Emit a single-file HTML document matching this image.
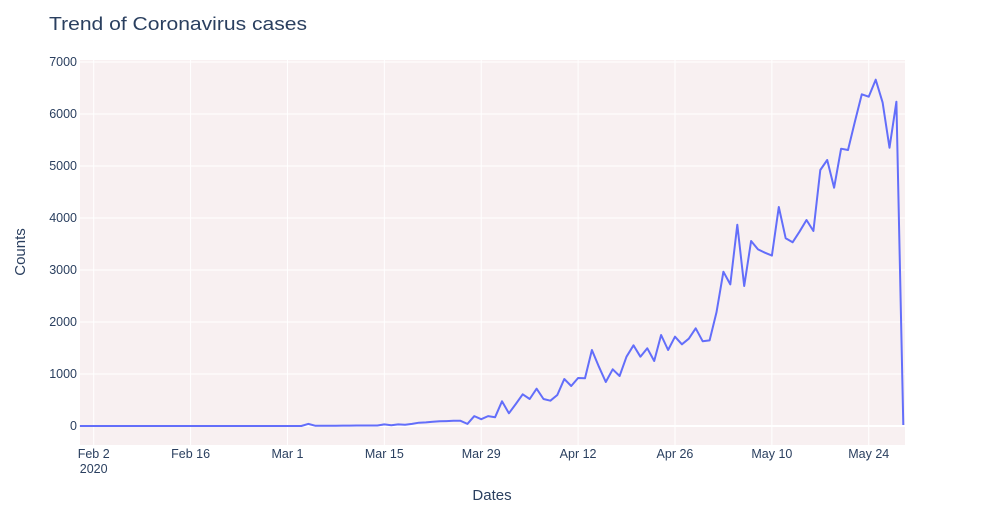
<!DOCTYPE html>
<html><head><meta charset="utf-8"><style>
body{margin:0;background:#fff;}
svg{display:block;font-family:"Liberation Sans",sans-serif;}
</style></head><body>
<svg id="chart" width="983" height="525">
<text x="49" y="30" font-size="18" fill="#2a3f5f" textLength="258" lengthAdjust="spacingAndGlyphs">Trend of Coronavirus cases</text>
<rect x="80" y="60" width="825" height="385" fill="#f8f0f1"/>
<g id="grid"></g>
<g id="yticks"></g>
<g id="xticks"></g>
<text x="492" y="500" font-size="15" fill="#2a3f5f" text-anchor="middle">Dates</text>
<text transform="translate(25,252) rotate(-90)" font-size="15" fill="#2a3f5f" text-anchor="middle">Counts</text>
<path id="line" fill="none" stroke="#636efa" stroke-width="2" stroke-linejoin="round"/>
</svg>
<script>
const startDate = "2020-01-31";
const counts = [
0,0,0,0,0,0,0,0,0,0,0,0,0,0,0,0,0,0,0,0,0,0,0,0,0,0,0,0,0,0,
0,0,0,40,5,5,5,5,8,8,10,10,10,10,30,15,30,25,40,64,70,80,90,95,100,100,40,190,130,190,
170,475,244,423,609,519,718,519,487,596,904,769,923,919,1462,1141,846,1090,962,1333,
1551,1333,1494,1250,1750,1462,1718,1571,1679,1878,1628,1647,2186,2968,2724,3872,2692,3558,3397,3333,
3276,4212,3609,3532,3737,3962,3750,4923,5115,4583,5333,5308,5853,6378,6333,6660,6224,5352,6237,20
];
const yTicks = [0,1000,2000,3000,4000,5000,6000,7000];
const xTickLabels = ["Feb 2","Feb 16","Mar 1","Mar 15","Mar 29","Apr 12","Apr 26","May 10","May 24"];
const xTickDates = ["2020-02-02","2020-02-16","2020-03-01","2020-03-15","2020-03-29","2020-04-12","2020-04-26","2020-05-10","2020-05-24"];

const NS="http://www.w3.org/2000/svg";
const day=86400000;
const t0=Date.parse("2020-02-02");
const pxPerDay=6.92;
function xOfDays(d){return 93.7+(d)*pxPerDay;}
function xOfDate(s){return xOfDays((Date.parse(s)-t0)/day);}
function yOf(v){return 426-v*0.052;}
const startOff=(Date.parse(startDate)-t0)/day;

const grid=document.getElementById('grid');
const yt=document.getElementById('yticks');
const xt=document.getElementById('xticks');
yTicks.forEach(v=>{
  const l=document.createElementNS(NS,'line');
  l.setAttribute('x1',80);l.setAttribute('x2',905);
  l.setAttribute('y1',yOf(v));l.setAttribute('y2',yOf(v));
  l.setAttribute('stroke','#fff');l.setAttribute('stroke-width',v===0?2:1);
  
  
  grid.appendChild(l);
  const t=document.createElementNS(NS,'text');
  t.setAttribute('x',77);t.setAttribute('y',yOf(v)+4);
  t.setAttribute('text-anchor','end');t.setAttribute('font-size','12.5');t.setAttribute('fill','#2a3f5f');
  t.textContent=v;
  
  
  yt.appendChild(t);
});
xTickDates.forEach((d,i)=>{
  const x=xOfDate(d);
  const l=document.createElementNS(NS,'line');
  l.setAttribute('x1',x);l.setAttribute('x2',x);
  l.setAttribute('y1',60);l.setAttribute('y2',445);
  l.setAttribute('stroke','#fff');l.setAttribute('stroke-width',1);
  
  
  grid.appendChild(l);
  const t=document.createElementNS(NS,'text');
  t.setAttribute('x',x);t.setAttribute('y',458);
  t.setAttribute('text-anchor','middle');t.setAttribute('font-size','12.5');t.setAttribute('fill','#2a3f5f');
  t.textContent=xTickLabels[i];
  
  
  xt.appendChild(t);
});
const yr=document.createElementNS(NS,'text');
yr.setAttribute('x',xOfDate(xTickDates[0]));yr.setAttribute('y',473);
yr.setAttribute('text-anchor','middle');yr.setAttribute('font-size','12.5');yr.setAttribute('fill','#2a3f5f');
yr.textContent="2020";


xt.appendChild(yr);

let d="";
counts.forEach((v,i)=>{
  d+=(i?"L":"M")+xOfDays(startOff+i).toFixed(1)+","+yOf(v).toFixed(1);
});
document.getElementById('line').setAttribute('d',d);
</script>
</body></html>
